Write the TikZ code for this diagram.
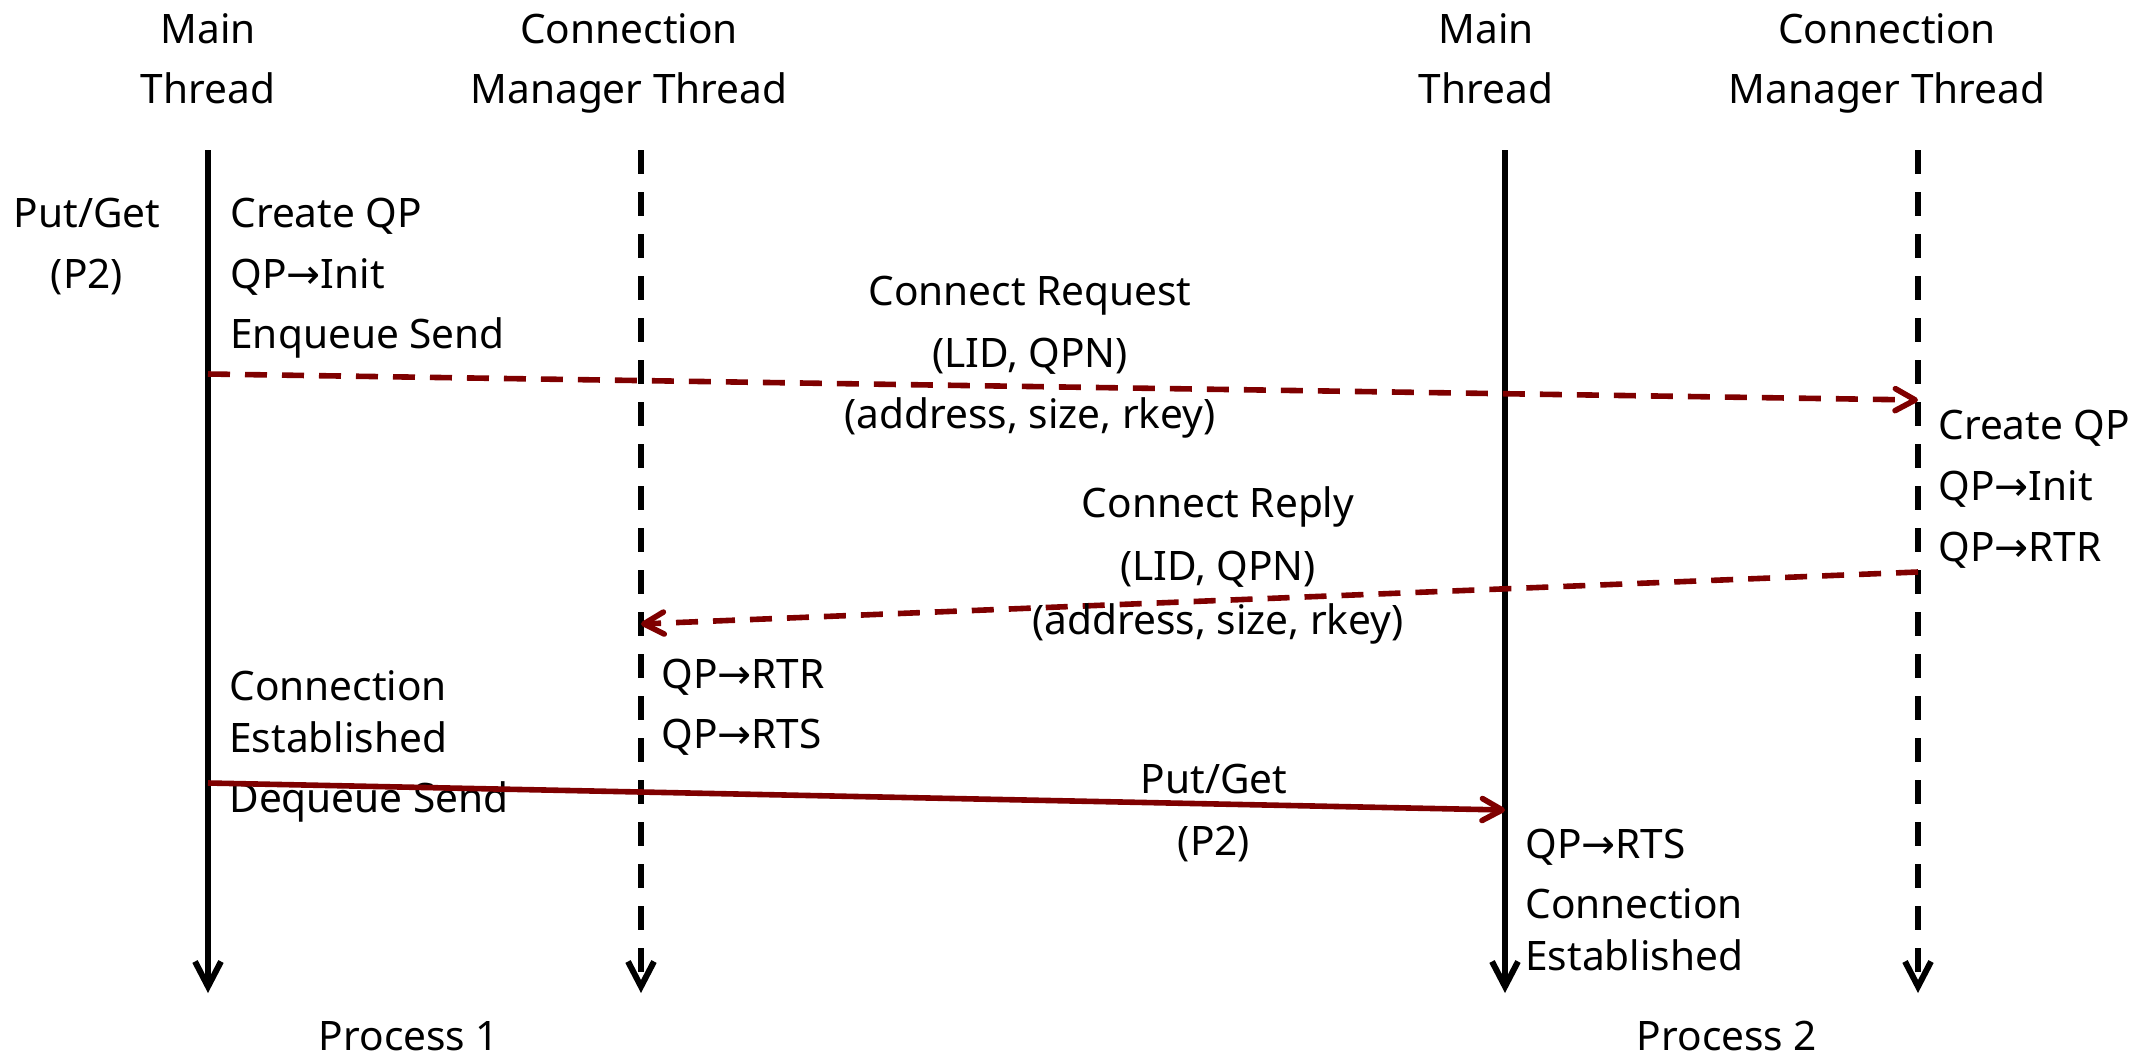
\documentclass[tikz,border=0pt]{standalone}
\usepackage{fontspec}
\setmainfont{Noto Sans}
\newfontfamily\symfont{DejaVu Sans}
\usetikzlibrary{arrows.meta}
\definecolor{msgred}{HTML}{7F0000}
\newcommand\qpto{{\symfont →}}
\tikzset{
  lbl/.style={inner sep=0pt, font=\fontsize{20.3pt}{24pt}\selectfont},
  lleft/.style={lbl, anchor=base west},
  lmid/.style={lbl, anchor=base},
  mainline/.style={line width=3pt, -{Straight Barb[length=12.5pt,width=13pt]}},
  cmline/.style={mainline, dash pattern=on 12pt off 9pt},
  msgline/.style={line width=2.8pt, draw=msgred, -{Straight Barb[round,length=10pt,width=11pt]}},
  msgdash/.style={msgline, dash pattern=on 11pt off 7.5pt},
}
\begin{document}
\begin{tikzpicture}[x=0.5pt, y=-0.5pt]
\useasboundingbox (0,0) rectangle (2141,1060);

% headers
\node[lmid] (h1a) at (208,43) {Main};
\node[lmid] (h1b) at (208,103) {Thread};
\node[lmid] (h2a) at (629,43) {Connection};
\node[lmid] (h2b) at (629,103) {Manager Thread};
\node[lmid] (h3a) at (1486,43) {Main};
\node[lmid] (h3b) at (1486,103) {Thread};
\node[lmid] (h4a) at (1887,43) {Connection};
\node[lmid] (h4b) at (1887,103) {Manager Thread};

% lifelines
\coordinate (m1top) at (208,150);  \coordinate (m1bot) at (208,993);
\coordinate (c1top) at (641,150);  \coordinate (c1bot) at (641,993);
\coordinate (m2top) at (1505,150); \coordinate (m2bot) at (1505,993);
\coordinate (c2top) at (1918,150); \coordinate (c2bot) at (1918,993);
\draw[mainline] (m1top) -- (m1bot);
\draw[cmline] (c1top) -- (c1bot);
\draw[mainline] (m2top) -- (m2bot);
\draw[cmline] (c2top) -- (c2bot);

% request from process 1
\node[lmid] (pg1) at (87,227) {Put/Get};
\node[lmid] (pg2) at (87,288) {(P2)};
\node[lleft] (a1) at (230,227) {Create QP};
\node[lleft] (a2) at (230,288) {QP\qpto Init};
\node[lleft] (a3) at (230,348) {Enqueue Send};

\coordinate (req0) at (208,374);
\coordinate (req1) at (1918,400);
\draw[msgdash] (req0) -- (req1);
\node[lmid] (r1) at (1030,305) {Connect Request};
\node[lmid] (r2) at (1030,367) {(LID, QPN)};
\node[lmid] (r3) at (1030,428) {(address, size, rkey)};

% process 2 connection manager
\node[lleft] (b1) at (1938,439) {Create QP};
\node[lleft] (b2) at (1938,500) {QP\qpto Init};
\node[lleft] (b3) at (1938,561) {QP\qpto RTR};

\coordinate (rep0) at (1918,572);
\coordinate (rep1) at (641,624);
\draw[msgdash] (rep0) -- (rep1);
\node[lmid] (p1) at (1218,517) {Connect Reply};
\node[lmid] (p2) at (1218,580) {(LID, QPN)};
\node[lmid] (p3) at (1218,634) {(address, size, rkey)};

% process 1 after reply
\node[lleft] (c1) at (661,688) {QP\qpto RTR};
\node[lleft] (c2) at (661,748) {QP\qpto RTS};
\node[lleft] (d1) at (229,700) {Connection};
\node[lleft] (d2) at (229,752) {Established};
\node[lleft] (d3) at (229,812) {Dequeue Send};

% the put/get itself
\coordinate (pg0) at (208,783);
\coordinate (pgend) at (1505,810);
\draw[msgline] (pg0) -- (pgend);
\node[lmid] (q1) at (1214,793) {Put/Get};
\node[lmid] (q2) at (1214,855) {(P2)};

% process 2 main thread
\node[lleft] (e1) at (1525,858) {QP\qpto RTS};
\node[lleft] (e2) at (1525,918) {Connection};
\node[lleft] (e3) at (1525,970) {Established};

% process labels
\node[lmid] (proc1) at (409,1050) {Process 1};
\node[lmid] (proc2) at (1727,1050) {Process 2};
\end{tikzpicture}
\end{document}
